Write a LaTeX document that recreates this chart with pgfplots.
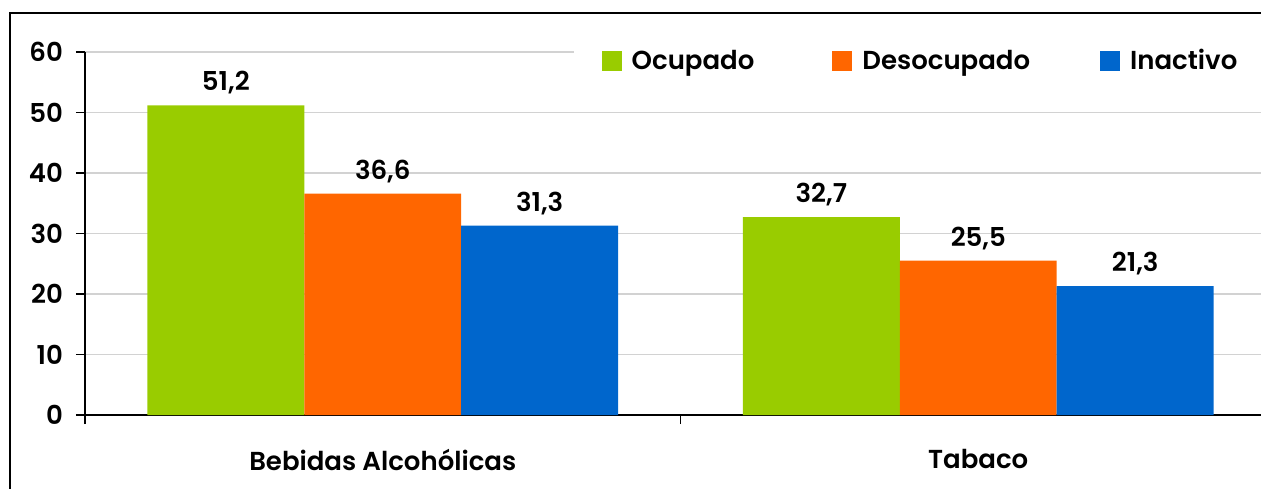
\documentclass[border=0pt]{standalone}
\usepackage{fontspec}
\setmainfont{Poppins}[BoldFont={Poppins SemiBold}]
\usepackage{pgfplots}
\pgfplotsset{compat=1.18}
\definecolor{cgreen}{HTML}{99CC00}
\definecolor{corange}{HTML}{FF6600}
\definecolor{cblue}{HTML}{0066CC}
\begin{document}
\begin{tikzpicture}
\useasboundingbox (-42.5pt,-36.5pt) rectangle (588pt,207.5pt);
\clip (-42.5pt,-36.5pt) rectangle (588pt,207.5pt);
\draw[line width=1.2pt, black] (-37.5pt,-60pt) -- (-37.5pt,201pt) -- (700pt,201pt);
\begin{axis}[
  at={(0pt,0pt)}, anchor=south west,
  scale only axis, width=595.5pt, height=181.5pt,
  xmin=-0.5, xmax=1.5, ymin=0, ymax=60,
  /pgf/number format/assume math mode=true,
  ytick={0,10,...,60},
  xtick={-0.5,0.5,1.5},
  x tick label as interval,
  xticklabels={Bebidas Alcohólicas, Tabaco},
  x tick style={draw=black, line width=0.8pt},
  xmajorgrids=false,
  tick align=outside,
  major tick length=4.5pt,
  y tick style={black, line width=0.8pt},
  axis x line*=bottom, axis y line*=left,
  axis line style={black, line width=1pt},
  ymajorgrids, grid style={gray!35, line width=0.8pt},
  font=\fontsize{13}{15}\selectfont\bfseries,
  ticklabel style={font=\fontsize{13}{15}\selectfont\bfseries},
  xticklabel style={yshift=-9pt},
  yticklabel style={xshift=-3pt},
  bar width=0.2635,
  ybar=0pt,
  nodes near coords={\pgfmathprintnumber[fixed,zerofill,precision=1,use comma,assume math mode=true]{\pgfplotspointmeta}},
  nodes near coords style={font=\fontsize{13}{15}\selectfont\bfseries, yshift=2pt},
  legend columns=3,
  legend style={at={(0.41,0.975)}, anchor=west, draw=none, fill=white,
    font=\fontsize{13}{15}\selectfont\bfseries,
    /tikz/every even column/.append style={column sep=37pt},
    /tikz/every odd column/.append style={column sep=3pt},
    inner xsep=14pt, inner ysep=6pt},
  legend image code/.code={\fill[#1] (0pt,-5pt) rectangle (10pt,5pt);},
]
\addplot[fill=cgreen, draw=none, bar shift=-0.2635] coordinates {(0,51.2) (1,32.7)};
\addplot[fill=corange, draw=none, bar shift=0] coordinates {(0,36.6) (1,25.5)};
\addplot[fill=cblue, draw=none, bar shift=0.2635] coordinates {(0,31.3) (1,21.3)};
\legend{Ocupado, Desocupado\hspace*{-4pt}, Inactivo\hspace*{20pt}}
\end{axis}
\end{tikzpicture}
\end{document}
